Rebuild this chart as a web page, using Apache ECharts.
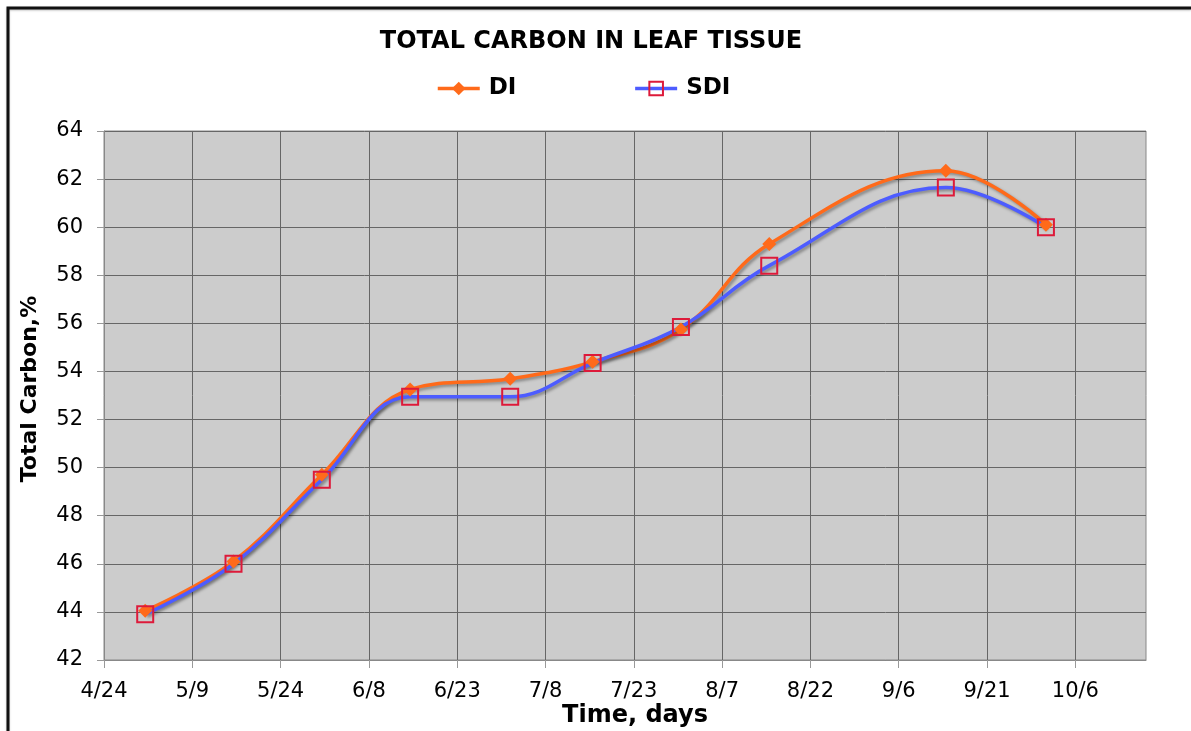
<!DOCTYPE html>
<html>
<head>
<meta charset="utf-8">
<title>Total Carbon in Leaf Tissue</title>
<script src="https://cdn.jsdelivr.net/npm/echarts@6/dist/echarts.min.js"></script>
<style>
  html, body { margin: 0; padding: 0; background: #fff; }
  #chart { width: 1191px; height: 731px; }
</style>
</head>
<body>
<div id="chart"></div>
<script>
// sampling dates (month/day) and measured values
const sampleDates = ['5/1', '5/16', '5/31', '6/15', '7/2', '7/16', '7/31', '8/15', '9/14', '10/1'];
const diValues = [44.05, 46.1, 49.7, 53.25, 53.7, 54.4, 55.75, 59.3, 62.35, 60.1];
const sdiValues = [43.9, 46.0, 49.5, 52.95, 52.95, 54.35, 55.85, 58.4, 61.65, 60.0];
const tickLabels = ['4/24', '5/9', '5/24', '6/8', '6/23', '7/8', '7/23', '8/7', '8/22', '9/6', '9/21', '10/6'];

const YEAR = 2009;
const START = Date.UTC(YEAR, 3, 24);
const DAY = 86400000;

// days since 4/24
function dayOffset(md) {
  const [m, d] = md.split('/').map(Number);
  return Math.round((Date.UTC(YEAR, m - 1, d) - START) / DAY);
}

const xs = sampleDates.map(dayOffset);
const diData = xs.map((x, i) => [x, diValues[i]]);
const sdiData = xs.map((x, i) => [x, sdiValues[i]]);
const tickValues = tickLabels.map(dayOffset);

const chart = echarts.init(document.getElementById('chart'));

const lineShadow = {
  shadowColor: 'rgba(0,0,0,0.35)',
  shadowBlur: 3,
  shadowOffsetX: 2,
  shadowOffsetY: 2
};

const option = {
  animation: false,
  textStyle: { fontFamily: 'DejaVu Sans' },
  title: {
    text: 'TOTAL CARBON IN LEAF TISSUE',
    left: 586,
    top: 25,
    textAlign: 'center',
    textStyle: { fontSize: 24, fontWeight: 'bold', color: '#000' }
  },
  legend: {
    top: 72,
    left: 431,
    itemWidth: 42,
    itemHeight: 17,
    itemGap: 117,
    lineStyle: { width: 3.5 },
    textStyle: { fontSize: 23, fontWeight: 'bold', color: '#000', padding: [0, 0, 0, 4] },
    data: ['DI', 'SDI']
  },
  grid: {
    left: 104,
    top: 131,
    right: 45,
    bottom: 71,
    show: true,
    backgroundColor: '#cccccc',
    borderColor: '#888',
    borderWidth: 1
  },
  xAxis: {
    type: 'value',
    min: 0,
    max: 177,
    interval: 15,
    axisLine: { show: true, lineStyle: { color: '#888', width: 1 } },
    axisTick: { show: true, length: 8, lineStyle: { color: '#999' }, customValues: tickValues },
    axisLabel: {
      fontSize: 21,
      color: '#000',
      margin: 21,
      customValues: tickValues,
      formatter: v => tickLabels[Math.round(v / 15)] || ''
    },
    splitLine: { show: true, lineStyle: { color: '#666', width: 1 } }
  },
  yAxis: {
    type: 'value',
    min: 42,
    max: 64,
    interval: 2,
    axisLine: { show: true, lineStyle: { color: '#888', width: 1 } },
    axisTick: { show: true, length: 7, lineStyle: { color: '#999' } },
    axisLabel: { fontSize: 21, color: '#000', margin: 21 },
    splitLine: { show: true, lineStyle: { color: '#666', width: 1 } }
  },
  graphic: [
    {
      type: 'polyline',
      shape: { points: [[8, 731], [8, 8], [1191, 8]] },
      style: { stroke: '#111', lineWidth: 3, fill: null, shadowColor: 'rgba(0,0,0,0.25)', shadowBlur: 2, shadowOffsetY: 1 },
      z: 10
    },
    {
      type: 'text',
      x: 635, y: 716,
      style: { text: 'Time, days', fontSize: 24, fontWeight: 'bold', fontFamily: 'DejaVu Sans', fill: '#000', align: 'center', verticalAlign: 'middle' }
    },
    {
      type: 'text',
      x: 30, y: 389,
      rotation: Math.PI / 2,
      style: { text: 'Total Carbon,%', fontSize: 22, fontWeight: 'bold', fontFamily: 'DejaVu Sans', fill: '#000', align: 'center', verticalAlign: 'middle' }
    }
  ],
  series: [
    {
      name: 'DI',
      type: 'line',
      smooth: 0.4,
      data: diData,
      symbol: 'diamond',
      symbolSize: 14,
      itemStyle: { color: '#ff6a1a', borderWidth: 0 },
      lineStyle: Object.assign({ color: '#ff6a1a', width: 3.5 }, lineShadow)
    },
    {
      name: 'SDI',
      type: 'line',
      smooth: 0.4,
      data: sdiData,
      symbol: 'rect',
      symbolSize: 16,
      itemStyle: { color: 'rgba(0,0,0,0)', borderColor: '#dd1a3a', borderWidth: 2 },
      lineStyle: Object.assign({ color: '#4d5cff', width: 3.5 }, lineShadow)
    }
  ]
};

chart.setOption(option);
</script>
</body>
</html>
